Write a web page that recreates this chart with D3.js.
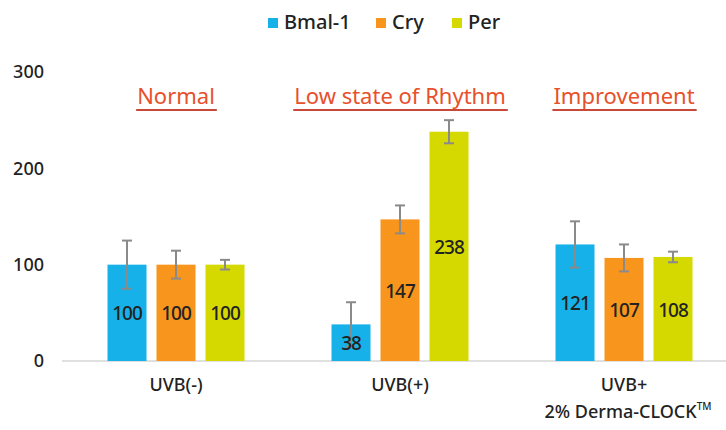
<!DOCTYPE html>
<meta charset="utf-8" />
<script src="https://d3js.org/d3.v7.min.js"></script>
<style>
  body { margin: 0; background: #fff; }
  svg text { font-family: "Noto Sans", sans-serif; fill: #222; font-weight: 500; }
</style>
<svg width="726" height="430"></svg>
<script>
  var groups = ["UVB(-)", "UVB(+)", "UVB+ 2% Derma-CLOCK"];
  var groupLines = [["UVB(-)"], ["UVB(+)"], ["UVB+", "2% Derma-CLOCK"]];
  var titles = ["Normal", "Low state of Rhythm", "Improvement"];
  var series = ["Bmal-1", "Cry", "Per"];
  var bmal = [100, 38, 121];
  var cry = [100, 147, 107];
  var per = [100, 238, 108];
  var bmalErr = [25, 23, 24];
  var cryErr = [14.5, 14.5, 14];
  var perErr = [5, 12, 5.5];
  var yTicks = [0, 100, 200, 300];
  var colors = ["#17b1e9", "#f8951d", "#d5d900"];

  var values = [bmal, cry, per];
  var errs = [bmalErr, cryErr, perErr];
  var data = [];
  groups.forEach(function (g, i) {
    series.forEach(function (s, j) {
      data.push({ group: g, series: s, value: values[j][i], err: errs[j][i] });
    });
  });

  var svg = d3.select("svg");

  var y = d3.scaleLinear().domain([0, 300]).range([361, 72]);
  var x0 = d3.scaleBand().domain(groups).range([64, 736]);
  var x1 = d3.scaleBand().domain(series).range([0, 137]).paddingInner(0.204);
  var color = d3.scaleOrdinal().domain(series).range(colors);
  var off = (x0.bandwidth() - 137) / 2;

  function bx(d) { return x0(d.group) + off + x1(d.series); }

  // y axis labels
  svg.append("g")
    .attr("transform", "translate(44,0)")
    .call(d3.axisLeft(y).tickValues(yTicks).tickSize(0).tickPadding(0))
    .call(function (g) { g.select(".domain").remove(); })
    .selectAll("text")
    .style("font-family", "'Noto Sans', sans-serif")
    .style("font-size", "18px")
    .style("font-weight", "500")
    .attr("fill", "#222");

  // baseline
  svg.append("line")
    .attr("x1", 62).attr("x2", 726)
    .attr("y1", y(0)).attr("y2", y(0))
    .attr("stroke", "#d6d6d6").attr("stroke-width", 1.5);

  // bars
  svg.selectAll(".bar")
    .data(data)
    .enter().append("rect")
    .attr("class", "bar")
    .attr("x", bx)
    .attr("y", function (d) { return y(d.value); })
    .attr("width", x1.bandwidth())
    .attr("height", function (d) { return y(0) - y(d.value); })
    .attr("fill", function (d) { return color(d.series); });

  // error bars
  var eb = svg.selectAll(".err").data(data).enter().append("g")
    .attr("class", "err")
    .attr("stroke", "#8a8a8a").attr("stroke-width", 2);
  eb.append("line")
    .attr("x1", function (d) { return bx(d) + x1.bandwidth() / 2; })
    .attr("x2", function (d) { return bx(d) + x1.bandwidth() / 2; })
    .attr("y1", function (d) { return y(d.value + d.err); })
    .attr("y2", function (d) { return y(d.value - d.err); });
  [1, -1].forEach(function (sgn) {
    eb.append("line")
      .attr("x1", function (d) { return bx(d) + x1.bandwidth() / 2 - 5; })
      .attr("x2", function (d) { return bx(d) + x1.bandwidth() / 2 + 5; })
      .attr("y1", function (d) { return y(d.value + sgn * d.err); })
      .attr("y2", function (d) { return y(d.value + sgn * d.err); });
  });

  // value labels
  svg.selectAll(".val")
    .data(data)
    .enter().append("text")
    .attr("class", "val")
    .attr("x", function (d) { return bx(d) + x1.bandwidth() / 2; })
    .attr("y", function (d) { return (y(d.value) + y(0)) / 2 + 1; })
    .attr("dy", "0.35em")
    .attr("text-anchor", "middle")
    .style("font-size", "19px")
    .style("letter-spacing", "-1px")
    .text(function (d) { return d.value; });

  // group titles
  var tg = svg.selectAll(".title").data(titles).enter().append("g")
    .attr("class", "title");
  tg.append("text")
    .attr("x", function (d, i) { return x0(groups[i]) + x0.bandwidth() / 2; })
    .attr("y", 104)
    .attr("text-anchor", "middle")
    .style("font-size", "22px")
    .style("font-weight", "400")
    .style("fill", "#e8502a")
    .text(function (d) { return d; });
  tg.each(function () {
    var t = d3.select(this).select("text");
    var b = t.node().getBBox();
    d3.select(this).append("line")
      .attr("x1", b.x - 1).attr("x2", b.x + b.width + 2)
      .attr("y1", 110).attr("y2", 110)
      .attr("stroke", "#c8483a").attr("stroke-width", 2);
  });

  // category labels
  var cl = svg.selectAll(".cat").data(groupLines).enter().append("text")
    .attr("class", "cat")
    .attr("text-anchor", "middle")
    .style("font-size", "18px");
  cl.selectAll("tspan").data(function (d, i) {
    return d.map(function (s) { return { s: s, i: i }; });
  }).enter().append("tspan")
    .attr("x", function (d) { return x0(groups[d.i]) + x0.bandwidth() / 2 + (d.s.length > 6 ? 4 : 0); })
    .attr("y", function (d, k) { return 391 + k * 27; })
    .text(function (d) { return d.s; });
  // trademark superscript
  cl.filter(function (d, i) { return i === 2; })
    .select("tspan:last-child")
    .append("tspan")
    .attr("dy", -8)
    .style("font-size", "10px")
    .text("TM");

  // legend
  var legX = [268, 376, 452];
  var lg = svg.selectAll(".leg").data(series).enter().append("g")
    .attr("class", "leg")
    .attr("transform", function (d, i) { return "translate(" + legX[i] + ",22)"; });
  lg.append("rect")
    .attr("x", 0).attr("y", -4).attr("width", 10).attr("height", 10)
    .attr("fill", function (d) { return color(d); });
  lg.append("text")
    .attr("x", 16).attr("dy", "0.35em")
    .style("font-size", "20px")
    .text(function (d) { return d; });
</script>
